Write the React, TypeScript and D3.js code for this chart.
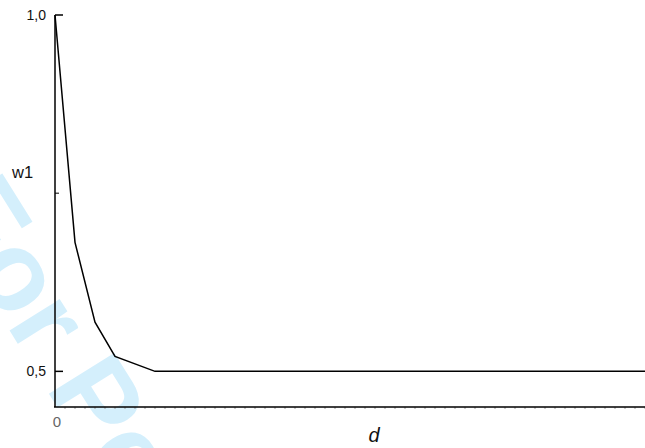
import React, { useEffect, useRef } from 'react';
import * as d3 from 'd3';

// values
const dValues = [0, 1, 2, 3, 5, 30];
const w1Values = [1.0, 0.681, 0.569, 0.521, 0.5, 0.5];
const yTickValues = [0.5, 0.75, 1.0];
const yTickLabels = ['0,5', '', '1,0'];

const W = 645;
const H = 448;

const App = () => {
  const ref = useRef<SVGSVGElement | null>(null);

  useEffect(() => {
    const svg = d3.select(ref.current);
    svg.selectAll('*').remove();

    const x = d3.scaleLinear().domain([0, 30]).range([55, 655]);
    const y = d3.scaleLinear().domain([0.45, 1.0]).range([407, 15]);

    // faint watermark in the background
    svg
      .append('text')
      .attr('transform', 'translate(-67,208) rotate(58)')
      .attr('font-family', 'Liberation Sans, Arial, sans-serif')
      .attr('font-weight', 'bold')
      .attr('font-size', 112)
      .attr('fill', '#d4effc')
      .text('For Peer Review');

    const font = 'Liberation Sans, Arial, Helvetica, sans-serif';

    // y axis
    svg
      .append('line')
      .attr('x1', 55)
      .attr('x2', 55)
      .attr('y1', y(1.0))
      .attr('y2', y(0.45))
      .attr('stroke', '#000')
      .attr('stroke-width', 1.5);

    yTickValues.forEach((v, i) => {
      const major = yTickLabels[i] !== '';
      svg
        .append('line')
        .attr('x1', 55)
        .attr('x2', major ? 63 : 59)
        .attr('y1', y(v))
        .attr('y2', y(v))
        .attr('stroke', '#000')
        .attr('stroke-width', major ? 1.5 : 1);
      if (major) {
        svg
          .append('text')
          .attr('x', 46)
          .attr('y', y(v) + 5)
          .attr('text-anchor', 'end')
          .attr('font-family', font)
          .attr('font-size', 14)
          .attr('fill', '#111')
          .text(yTickLabels[i]);
      }
    });

    // x axis with faint minor ticks
    svg
      .append('g')
      .selectAll('line')
      .data(d3.range(0.5, 30, 0.5))
      .enter()
      .append('line')
      .attr('x1', (d) => x(d))
      .attr('x2', (d) => x(d))
      .attr('y1', 407)
      .attr('y2', 409)
      .attr('stroke', '#999')
      .attr('stroke-width', 1);

    svg
      .append('line')
      .attr('x1', 54)
      .attr('x2', W)
      .attr('y1', 407)
      .attr('y2', 407)
      .attr('stroke', '#000')
      .attr('stroke-width', 1.5);

    svg
      .append('text')
      .attr('x', 57)
      .attr('y', 427)
      .attr('text-anchor', 'middle')
      .attr('font-family', font)
      .attr('font-size', 15)
      .attr('fill', '#666')
      .text('0');

    // series
    const line = d3
      .line<number>()
      .x((_, i) => x(dValues[i]))
      .y((d) => y(d));

    svg
      .append('path')
      .datum(w1Values)
      .attr('d', line)
      .attr('fill', 'none')
      .attr('stroke', '#000')
      .attr('stroke-width', 1.5)
      .attr('stroke-linejoin', 'miter');

    // axis titles
    svg
      .append('text')
      .attr('x', 12)
      .attr('y', 178)
      .attr('font-family', font)
      .attr('font-size', 16.5)
      .attr('fill', '#111')
      .text('w1');

    svg
      .append('text')
      .attr('x', 374)
      .attr('y', 442)
      .attr('text-anchor', 'middle')
      .attr('font-family', font)
      .attr('font-style', 'italic')
      .attr('font-size', 20)
      .attr('fill', '#111')
      .text('d');
  }, []);

  return (
    <svg
      ref={ref}
      width={W}
      height={H}
      style={{ position: 'absolute', left: 0, top: 0, background: '#fff' }}
    />
  );
};

export default App;
